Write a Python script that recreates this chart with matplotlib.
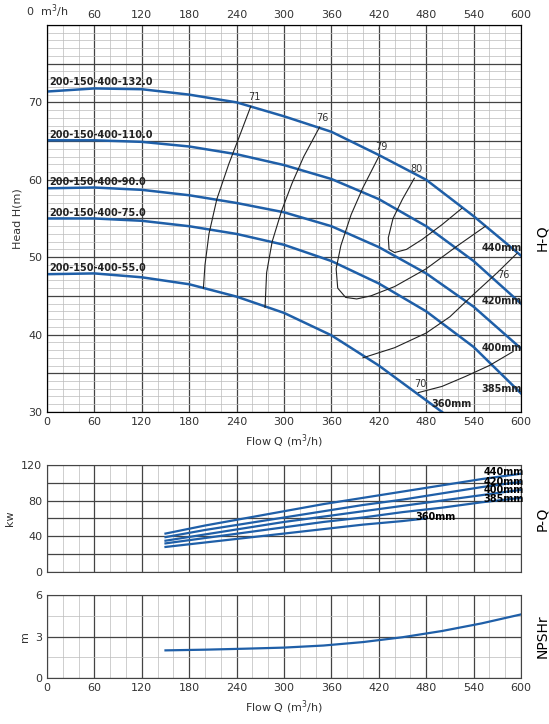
import matplotlib
matplotlib.use("Agg")
import matplotlib.pyplot as plt

BLUE = "#1f5fa8"
q_hq = [0, 60, 120, 180, 240, 300, 360, 420, 480, 540, 600]
h_440 = [71.4, 71.8, 71.7, 71.0, 70.0, 68.2, 66.2, 63.2, 60.0, 55.3, 50.2]
h_420 = [65.1, 65.1, 64.9, 64.3, 63.3, 61.9, 60.1, 57.5, 54.0, 49.5, 44.0]
h_400 = [58.9, 59.0, 58.7, 58.0, 57.0, 55.8, 54.0, 51.3, 47.9, 43.6, 38.2]
h_385 = [55.0, 55.0, 54.7, 54.0, 53.0, 51.6, 49.5, 46.6, 43.0, 38.4, 32.4]
q_360 = [0, 60, 120, 180, 240, 300, 360, 420, 480, 500]
h_360 = [47.8, 47.9, 47.4, 46.5, 44.9, 42.8, 39.9, 36.0, 31.5, 30.0]
models = ["200-150-400-132.0", "200-150-400-110.0", "200-150-400-90.0", "200-150-400-75.0", "200-150-400-55.0"]
model_y = [72.2, 65.4, 59.3, 55.3, 48.2]
dia = ["440mm", "420mm", "400mm", "385mm", "360mm"]
dia_pos = [(575, 50.8), (575, 43.9), (575, 37.9), (575, 32.6), (512, 30.6)]

eff = {
 "71": ([258, 245, 230, 215, 205, 200, 198], [69.5, 66, 62, 57.5, 53, 49, 46]),
 "76": ([345, 325, 310, 297, 285, 278, 276], [66.8, 63, 59.5, 56, 52, 48, 43.5]),
 "79": ([420, 400, 385, 372, 366, 368, 378, 392, 410, 440, 480, 520, 555],
        [63, 59, 55.5, 51.5, 48.5, 46, 44.8, 44.6, 45, 46.2, 48.5, 51.5, 54.0]),
 "80": ([465, 450, 438, 432, 433, 440, 455, 475, 500, 525],
        [60.2, 57.5, 55, 52.5, 51, 50.6, 51, 52.3, 54.2, 56.3]),
 "76b": ([400, 440, 480, 510, 540, 570, 595], [37.0, 38.3, 40.2, 42.3, 45.2, 48, 50.5]),
 "70": ([470, 500, 530, 560, 590], [32.5, 33.3, 34.6, 36, 37.8]),
}
eff_lab = [("71", 262, 70.3), ("76", 348, 67.6), ("79", 423, 63.8), ("80", 468, 61.0), ("76", 578, 47.3), ("70", 473, 33.2)]

q_p = [150, 200, 250, 300, 350, 400, 450, 500, 550, 600]
p_440 = [43, 52, 60, 68, 76, 83, 90, 97, 104, 110]
p_420 = [39, 47, 54, 61, 68, 75, 81, 88, 95, 101]
p_400 = [35, 42, 49, 56, 62, 68, 74, 80, 86, 92]
p_385 = [32, 38, 44, 50, 56, 61, 67, 72, 78, 83]
q_p360 = [150, 200, 250, 300, 350, 400, 450, 480]
p_360 = [28, 33, 38, 43, 48, 53, 57, 60]
q_n = [150, 200, 250, 300, 350, 400, 450, 500, 550, 600]
npsh = [2.0, 2.05, 2.12, 2.2, 2.35, 2.6, 2.95, 3.4, 3.95, 4.6]

fig = plt.figure(figsize=(5.49, 7.24), dpi=100)
ax = fig.add_axes([0.0856, 0.431, 0.8634, 0.5345])
ap = fig.add_axes([0.0856, 0.21, 0.8634, 0.148])
an = fig.add_axes([0.0856, 0.0635, 0.8634, 0.1146])

def grid(a, ymin, ymax, ymaj, ymin_step):
    a.set_xlim(0, 600); a.set_ylim(ymin, ymax)
    for x in range(0, 601, 20):
        a.axvline(x, color="#bbbbbb" if x % 60 else "#444444", lw=0.5 if x % 60 else 0.9, zorder=0)
    y = ymin
    while y <= ymax + 1e-9:
        major = abs((y - ymin) / ymaj - round((y - ymin) / ymaj)) < 1e-6
        a.axhline(y, color="#444444" if major else "#bbbbbb", lw=0.9 if major else 0.5, zorder=0)
        y += ymin_step
    a.set_xticks(range(0, 601, 60))
    a.tick_params(labelsize=8, colors="#333333", length=0)
    for s in a.spines.values(): s.set_color("#444444")

grid(ax, 30, 80, 5, 1)
ax.set_yticks([30, 40, 50, 60, 70])
for h in [h_440, h_420, h_400, h_385]:
    ax.plot(q_hq, h, color=BLUE, lw=1.8)
ax.plot(q_360, h_360, color=BLUE, lw=1.8)
for k, (xs, ys) in eff.items():
    ax.plot(xs, ys, color="#222222", lw=0.8)
for t, x, y in eff_lab:
    ax.text(x, y, t, fontsize=7, color="#333333", ha="center")
for m, y in zip(models, model_y):
    ax.text(3, y, m, fontsize=7, fontweight="bold", color="#222222")
for d, (x, y) in zip(dia, dia_pos):
    ax.text(x, y, d, fontsize=7, fontweight="bold", color="#222222", ha="center")
ax.set_xlabel("Flow Q (m$^3$/h)", fontsize=8, color="#333333")
ax.set_ylabel("Head H(m)", fontsize=8, color="#333333")
top = ax.twiny(); top.set_xlim(0, 600); top.set_xticks(range(0, 601, 60))
top.set_xticklabels(["0  m$^3$/h"] + [str(v) for v in range(60, 601, 60)])
top.tick_params(labelsize=8, colors="#333333", length=0)
ax.text(1.03, 0.45, "H-Q", transform=ax.transAxes, rotation=90, fontsize=10, va="center")

grid(ap, 0, 120, 20, 20)
ap.set_yticks([0, 40, 80, 120])
for p in [p_440, p_420, p_400, p_385]:
    ap.plot(q_p, p, color=BLUE, lw=1.6)
ap.plot(q_p360, p_360, color=BLUE, lw=1.6)
for d, y in zip(dia[:4], [112, 101, 92, 82]):
    ap.text(578, y, d, fontsize=7, fontweight="bold", ha="center", va="center")
ap.text(492, 62, "360mm", fontsize=7, fontweight="bold", ha="center", va="center")
ap.set_ylabel("kw", fontsize=8, color="#333333")
ap.set_xticklabels([])
ap.text(1.03, 0.5, "P-Q", transform=ap.transAxes, rotation=90, fontsize=10, va="center")

grid(an, 0, 6, 3, 1.5)
an.set_yticks([0, 3, 6])
an.plot(q_n, npsh, color=BLUE, lw=1.6)
an.set_ylabel("m", fontsize=8, color="#333333")
an.set_xlabel("Flow Q (m$^3$/h)", fontsize=8, color="#333333")
an.text(1.03, 0.5, "NPSHr", transform=an.transAxes, rotation=90, fontsize=10, va="center")

fig.savefig("out.png", dpi=100)
